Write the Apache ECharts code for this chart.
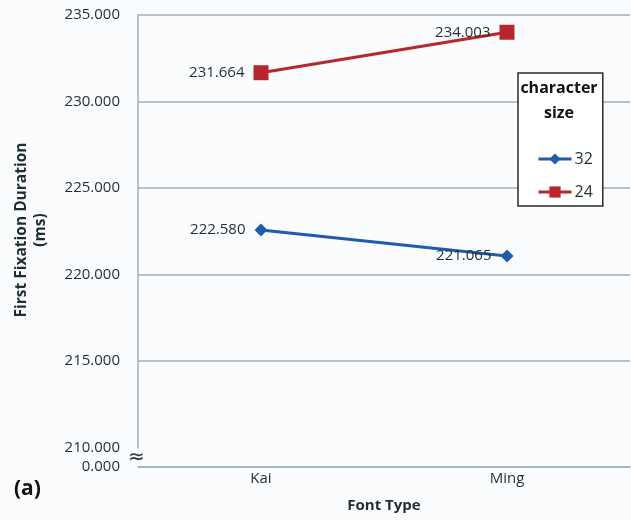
<!DOCTYPE html>
<html>
<head>
<meta charset="utf-8">
<script src="https://cdn.jsdelivr.net/npm/echarts@6/dist/echarts.min.js"></script>
<style>
html,body{margin:0;padding:0;background:#fbfcfe;}
#c{width:631px;height:520px;}
</style>
</head>
<body>
<div id="c"></div>
<script>
var categories = ['Kai', 'Ming'];
var size32 = [222.580, 221.065];
var size24 = [231.664, 234.003];
var seriesNames = ['32', '24'];
var yMin = 0, yMax = 235, yInterval = 5;
var breakStart = 0, breakEnd = 210;

var FONT = '"Open Sans", sans-serif';
var TXT = '#1d2e33';
var GRID = '#9fb2b8';

var chart = echarts.init(document.getElementById('c'), null, {renderer: 'canvas'});
var labelStyle = {show: true, position: 'left', distance: 9, color: TXT, fontFamily: FONT, fontSize: 15,
  formatter: function (p) { return p.value.toFixed(3); }};
chart.setOption({
  backgroundColor: '#fbfcfe',
  animation: false,
  grid: {left: 138, right: 1, top: 15, bottom: 53, outerBoundsMode: 'none'},
  legend: {
    orient: 'vertical', left: 518, top: 73,
    padding: [78, 10, 6, 19],
    backgroundColor: '#ffffff', borderColor: '#2a2a2a', borderWidth: 1.5,
    itemWidth: 33, itemHeight: 14, itemGap: 17,
    lineStyle: {width: 3},
    data: seriesNames,
    textStyle: {color: TXT, fontFamily: FONT, fontSize: 16, padding: [0, 0, 0, -2]}
  },
  xAxis: {
    type: 'category', data: categories, boundaryGap: true,
    name: 'Font Type', nameLocation: 'middle', nameGap: 31,
    nameTextStyle: {color: TXT, fontFamily: FONT, fontSize: 15, fontWeight: 'bold'},
    axisLine: {show: true, lineStyle: {color: GRID, width: 1.5}},
    axisTick: {show: false},
    axisLabel: {color: TXT, fontFamily: FONT, fontSize: 15, margin: 4}
  },
  yAxis: {
    type: 'value', min: yMin, max: yMax, interval: yInterval,
    breaks: [{start: breakStart, end: breakEnd, gap: '4.3%'}],
    breakArea: {show: true, itemStyle: {color: 'rgba(0,0,0,0)', borderColor: 'rgba(0,0,0,0)', borderWidth: 0}, zigzagAmplitude: 0},
    name: 'First Fixation Duration\n(ms)', nameLocation: 'middle', nameGap: 88,
    nameTextStyle: {color: TXT, fontFamily: FONT, fontSize: 15.5, fontWeight: 'bold', lineHeight: 19, padding: [0, 0, 0, 22]},
    axisLine: {show: true, lineStyle: {color: GRID, width: 1.5}},
    axisTick: {show: false},
    splitLine: {show: true, lineStyle: {color: GRID, width: 1.5}},
    axisLabel: {color: TXT, fontFamily: FONT, fontSize: 15, margin: 18,
      formatter: function (v) { return v.toFixed(3); }}
  },
  graphic: [
    {type: 'text', left: 128, top: 448, z: 100, style: {text: '≈', fill: TXT, font: '20px "DejaVu Sans"'}},
    {type: 'text', left: 14, top: 479, z: 100, style: {text: '(a)', fill: '#111', font: 'bold 21px ' + FONT}},
    {type: 'text', x: 559, y: 76, z: 100, style: {text: 'character\nsize', fill: '#111', font: 'bold 16px ' + FONT, align: 'center', verticalAlign: 'top', lineHeight: 25}}
  ],
  series: [
    {name: seriesNames[0], type: 'line', data: size32, symbol: 'diamond', symbolSize: 13,
     lineStyle: {color: '#1f5cb0', width: 3}, itemStyle: {color: '#1f5cb0'}, label: labelStyle, z: 5},
    {name: seriesNames[1], type: 'line', data: size24, symbol: 'rect', symbolSize: 15,
     lineStyle: {color: '#b8262c', width: 3}, itemStyle: {color: '#b8262c'}, label: labelStyle, z: 5}
  ]
});
</script>
</body>
</html>
